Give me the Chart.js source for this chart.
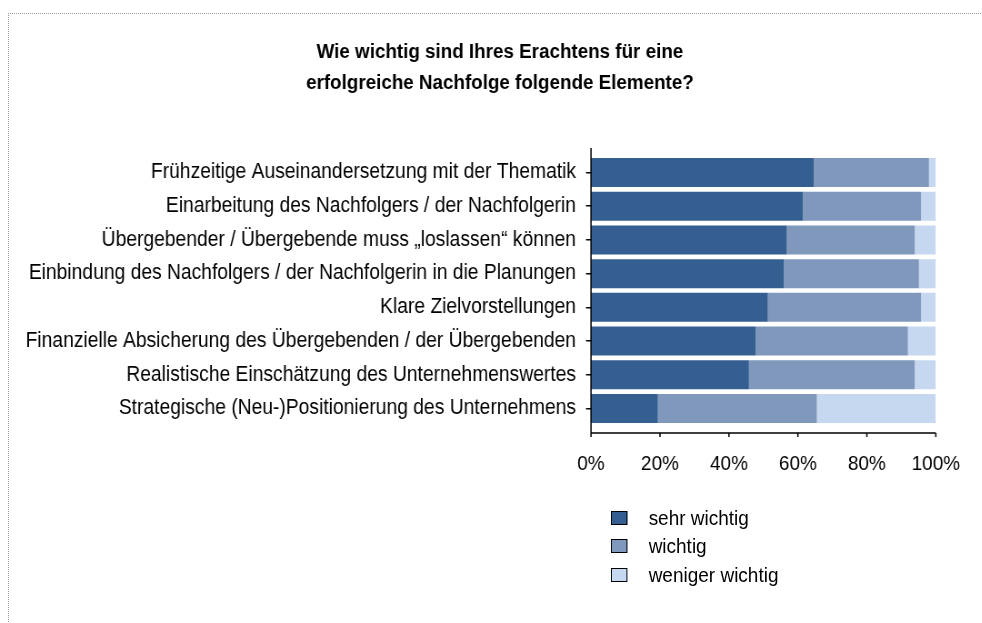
<!DOCTYPE html>
<html lang="de">
<head>
<meta charset="utf-8">
<title>Nachfolge – Elemente</title>
<script src="https://cdn.jsdelivr.net/npm/chart.js@4/dist/chart.umd.min.js"></script>
<style>
  html, body { margin: 0; padding: 0; background: #fff; }
  #wrap { position: relative; width: 982px; height: 623px; overflow: hidden; }
  #frame {
    position: absolute; left: 8px; top: 13px; width: 1000px; height: 700px;
    border-top: 1px dotted #999; border-left: 1px dotted #999;
  }
  /* the chart is laid out 10% wider and squeezed back, giving the tall narrow lettering */
  #chart { position: absolute; left: 0; top: 0; transform: scaleX(0.90909); transform-origin: 0 0; }
  #legend {
    position: absolute; left: 611px; top: 504px;
    transform: scaleX(0.90909); transform-origin: 0 0;
    font-family: "Liberation Sans", Arial, sans-serif;
    font-size: 20.9px; color: #000; white-space: nowrap;
  }
  #legend div { height: 28.3px; display: flex; align-items: center; }
  #legend span.box {
    display: inline-block; width: 16.4px; height: 12px;
    border: 1.5px solid #000; margin-right: 23px;
  }
</style>
</head>
<body>
<div id="wrap">
  <div id="frame"></div>
  <canvas id="chart" width="1080" height="623"></canvas>
  <div id="legend"></div>
</div>
<script>
// ---------- DATA ----------
var categories = [
  "Frühzeitige Auseinandersetzung mit der Thematik",
  "Einarbeitung des Nachfolgers / der Nachfolgerin",
  "Übergebender / Übergebende muss „loslassen“ können",
  "Einbindung des Nachfolgers / der Nachfolgerin in die Planungen",
  "Klare Zielvorstellungen",
  "Finanzielle Absicherung des Übergebenden / der Übergebenden",
  "Realistische Einschätzung des Unternehmenswertes",
  "Strategische (Neu-)Positionierung des Unternehmens"
];
var seriesNames = ["sehr wichtig", "wichtig", "weniger wichtig"];
var sehrWichtig    = [64.6, 61.4, 56.8, 55.9, 51.3, 47.8, 45.8, 19.4];
var wichtig        = [33.4, 34.3, 37.1, 39.2, 44.4, 44.1, 48.1, 46.1];
var wenigerWichtig = [ 2.0,  4.3,  6.1,  4.9,  4.3,  8.1,  6.1, 34.5];
var xTicks = [0, 20, 40, 60, 80, 100];
var titleLines = ["Wie wichtig sind Ihres Erachtens für eine", "erfolgreiche Nachfolge folgende Elemente?"];

var colors = ["#355E91", "#7F98BC", "#C6D8F0"];
var FONT = '"Liberation Sans", Arial, sans-serif';
var K = 1.1; // horizontal stretch of the canvas layout (undone by the CSS scaleX)

// axis lines reach a bit beyond the outer bars, ticks hang below the x axis
var axisLines = {
  id: "axisLines",
  afterLayout: function(chart) {
    // title sits centred over the right-hand part of the canvas
    chart.titleBlock.left = 64 * K;
  },
  afterDraw: function(chart) {
    var ctx = chart.ctx, a = chart.chartArea;
    var xs = chart.scales.x;
    var ext = (a.bottom - a.top) / categories.length * 0.225;
    var yBase = a.bottom + ext;
    ctx.save();
    ctx.strokeStyle = "#000";
    ctx.lineWidth = 1.5;
    ctx.beginPath();
    ctx.moveTo(a.left, a.top - ext);
    ctx.lineTo(a.left, yBase);
    ctx.lineTo(a.right, yBase);
    xTicks.forEach(function(v) {
      var px = xs.getPixelForValue(v);
      ctx.moveTo(px, yBase);
      ctx.lineTo(px, yBase + 4);
    });
    ctx.stroke();
    ctx.restore();
  }
};

var chart = new Chart(document.getElementById("chart"), {
  type: "bar",
  data: {
    labels: categories,
    datasets: [
      { label: seriesNames[0], data: sehrWichtig, backgroundColor: colors[0] },
      { label: seriesNames[1], data: wichtig, backgroundColor: colors[1] },
      { label: seriesNames[2], data: wenigerWichtig, backgroundColor: colors[2] }
    ]
  },
  options: {
    indexAxis: "y",
    responsive: false,
    animation: false,
    devicePixelRatio: 1,
    layout: { padding: { left: 0, right: 46 * K, top: 0, bottom: 0 } },
    datasets: { bar: { categoryPercentage: 1, barPercentage: 0.86, borderWidth: 0 } },
    plugins: {
      legend: { display: false },
      tooltip: { enabled: false },
      title: {
        display: true,
        text: titleLines,
        color: "#000",
        font: { family: FONT, size: 20.7, weight: "bold", lineHeight: 1.527 },
        padding: { top: 36, bottom: 56.4 }
      }
    },
    scales: {
      x: {
        stacked: true,
        min: 0, max: 100,
        afterFit: function(s) { s.height = 197.6; },
        afterBuildTicks: function(s) { s.ticks = xTicks.map(function(v) { return { value: v }; }); },
        // tick marks are drawn by axisLines; tickLength only pushes the labels down
        grid: { display: false, drawTicks: true, tickLength: 21 },
        border: { display: false },
        ticks: {
          color: "#000",
          font: { family: FONT, size: 20.9 },
          padding: 5,
          callback: function(v) { return v + "%"; }
        }
      },
      y: {
        stacked: true,
        afterFit: function(s) { s.width = 591 * K; },
        grid: { drawOnChartArea: false, offset: false, tickLength: 5 * K, color: "#000", lineWidth: 1.5 },
        border: { display: false },
        ticks: { color: "#000", font: { family: FONT, size: 21.2 }, padding: 10 * K }
      }
    }
  },
  plugins: [axisLines]
});

// legend built from the chart's datasets
var legend = document.getElementById("legend");
chart.data.datasets.forEach(function(ds) {
  var row = document.createElement("div");
  var box = document.createElement("span");
  box.className = "box";
  box.style.background = ds.backgroundColor;
  row.appendChild(box);
  row.appendChild(document.createTextNode(ds.label));
  legend.appendChild(row);
});
</script>
</body>
</html>
